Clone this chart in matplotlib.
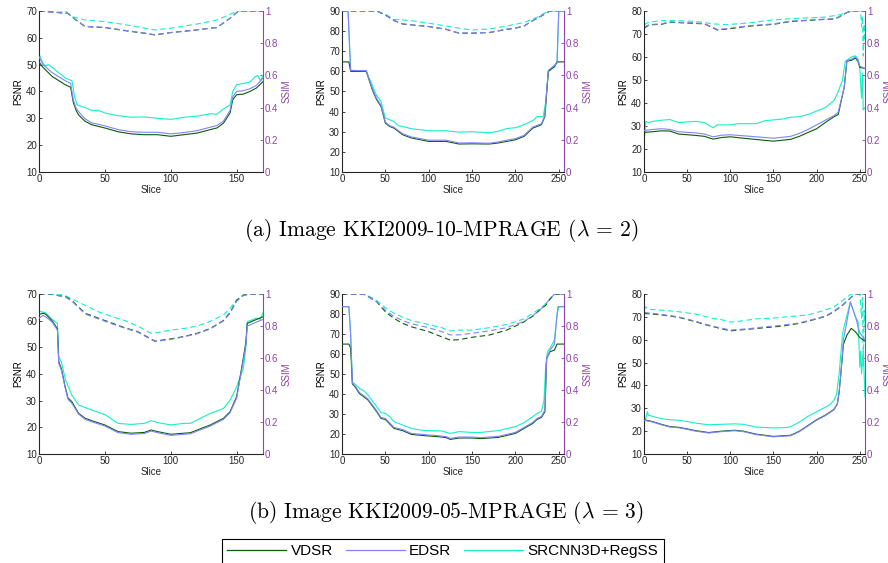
import matplotlib
matplotlib.use("Agg")
import matplotlib.pyplot as plt
from matplotlib.lines import Line2D

plt.rcParams["mathtext.fontset"] = "cm"

METHODS = ["VDSR", "EDSR", "SRCNN3D+RegSS"]
COLORS = {"VDSR": "#0a5c0a", "EDSR": "#8282ff", "SRCNN3D+RegSS": "#12f2c4"}
# SRCNN3D goes underneath so the plateaus of the other two stay visible
ZORDER = {"VDSR": 3, "EDSR": 4, "SRCNN3D+RegSS": 2}
LEFT_COLOR = "#262626"
RIGHT_COLOR = "#8e44a8"

# ---- (a) KKI2009-10-MPRAGE, lambda = 2 -------------------------------------
a1_vdsr_psnr = [(0, 51), (3, 49), (10, 45.6), (20, 42.5), (24, 41.6), (26, 36), (28, 33.2), (30, 31.3),
                (35, 28.9), (40, 27.6), (50, 26.4), (60, 25), (70, 24.2), (80, 23.9), (90, 23.9), (100, 23.3),
                (110, 23.9), (120, 24.5), (130, 25.8), (135, 26.4), (140, 28.2), (145, 32), (147, 36.9),
                (150, 38.8), (155, 39), (160, 40), (165, 41.3), (170, 43.7)]
a1_edsr_psnr = [(0, 53), (3, 50), (10, 47), (20, 44), (24, 43), (26, 37), (28, 34), (30, 32.5), (35, 29.8),
                (40, 28.3), (50, 27.2), (60, 25.8), (70, 25), (80, 24.8), (90, 24.8), (100, 24.2), (110, 24.7),
                (120, 25.4), (130, 26.7), (135, 27.3), (140, 29), (145, 33), (147, 38), (150, 40), (155, 40.3),
                (160, 41), (165, 42.3), (170, 45)]
a1_srcnn_psnr = [(0, 54), (3, 50.5), (5, 49.5), (7, 50), (10, 49), (15, 47), (20, 45), (25, 44), (27, 38),
                 (29, 35), (35, 34), (40, 33), (45, 33), (50, 32), (60, 31), (70, 30.4), (80, 30.5), (90, 30),
                 (100, 29.6), (110, 30.4), (120, 30.8), (130, 31.7), (135, 31.5), (140, 33.5), (145, 35),
                 (147, 40), (150, 42.5), (155, 43), (160, 43.5), (164, 45.5), (166, 46), (168, 44), (170, 46)]
a1_vdsr_ssim = [(0, 1), (22, 0.985), (28, 0.944), (35, 0.903), (50, 0.897), (65, 0.878), (80, 0.862),
                (88, 0.851), (100, 0.866), (115, 0.878), (130, 0.893), (135, 0.897), (145, 0.955), (150, 0.99),
                (152, 1), (170, 1)]
a1_edsr_ssim = [(0, 1), (22, 0.985), (28, 0.946), (35, 0.905), (50, 0.898), (65, 0.88), (80, 0.863),
                (88, 0.852), (100, 0.866), (115, 0.878), (130, 0.893), (135, 0.897), (145, 0.955), (150, 0.99),
                (152, 1), (170, 1)]
a1_srcnn_ssim = [(0, 1), (20, 1), (25, 0.965), (35, 0.944), (50, 0.934), (70, 0.909), (88, 0.882),
                 (100, 0.893), (120, 0.919), (135, 0.944), (148, 0.99), (150, 1), (170, 1)]

a2_vdsr_psnr = [(0, 64.7), (8, 64.7), (10, 60), (28, 60), (30, 57.4), (35, 50.8), (40, 45.9), (45, 42.6),
                (50, 34.3), (55, 32.6), (60, 31.8), (70, 28.5), (80, 26.9), (100, 25.2), (120, 25.2), (135, 23.9),
                (150, 24), (170, 23.9), (180, 24.4), (200, 26), (210, 27.7), (220, 31.8), (230, 33.5),
                (234, 37.6), (236, 49.2), (238, 59.9), (245, 62.4), (248, 64.7), (256, 64.7)]
a2_edsr_psnr = [(0, 90), (7, 90), (10, 60.5), (28, 60.3), (30, 57.8), (35, 51.5), (40, 46.5), (45, 43.2),
                (50, 34.8), (55, 33), (60, 32.2), (70, 29), (80, 27.4), (100, 25.8), (120, 25.8), (135, 24.4),
                (150, 24.5), (170, 24.3), (180, 24.9), (200, 26.6), (210, 28.2), (220, 32.3), (230, 34),
                (234, 38), (236, 50), (238, 60.5), (245, 63), (248, 64), (250, 90), (256, 90)]
a2_srcnn_psnr = [(0, 90), (7, 90), (10, 60.5), (28, 60.3), (30, 58), (35, 53), (40, 48), (45, 45), (50, 36.8),
                 (55, 36), (60, 35), (65, 33), (70, 32.6), (80, 31.5), (100, 30.5), (120, 30.5), (135, 29.8),
                 (150, 30), (170, 29.5), (180, 30.2), (190, 31.6), (200, 32), (210, 33.5), (220, 35.5),
                 (225, 37.5), (232, 37.5), (235, 45), (237, 55), (238, 60.5), (245, 62), (248, 64.7),
                 (250, 90), (256, 90)]
a2_vdsr_ssim = [(0, 1), (40, 1), (50, 0.975), (60, 0.94), (70, 0.919), (100, 0.903), (120, 0.886),
                (135, 0.862), (150, 0.862), (170, 0.866), (190, 0.886), (200, 0.893), (210, 0.907),
                (220, 0.94), (230, 0.969), (240, 1), (256, 1)]
a2_edsr_ssim = [(0, 1), (40, 1), (50, 0.975), (60, 0.942), (70, 0.92), (100, 0.904), (120, 0.887),
                (135, 0.863), (150, 0.863), (170, 0.867), (190, 0.887), (200, 0.894), (210, 0.908),
                (220, 0.94), (230, 0.97), (240, 1), (256, 1)]
a2_srcnn_ssim = [(0, 1), (40, 1), (50, 0.98), (60, 0.948), (80, 0.94), (100, 0.924), (120, 0.907),
                 (135, 0.893), (150, 0.882), (170, 0.888), (190, 0.907), (210, 0.928), (225, 0.961),
                 (238, 1), (256, 1)]

a3_vdsr_psnr = [(0, 27.2), (10, 27.5), (20, 27.9), (30, 27.8), (40, 26.5), (60, 25.9), (70, 25.5), (80, 24.3),
                (90, 25), (100, 25.3), (120, 24.5), (150, 23.4), (170, 24.2), (180, 25.5), (190, 27.2),
                (200, 28.8), (210, 31.5), (220, 34), (225, 35), (232, 47), (235, 58.2), (240, 58.5),
                (245, 59.5), (248, 58), (250, 55.5), (256, 55)]
a3_edsr_psnr = [(0, 28), (10, 28.5), (20, 28.8), (30, 28.5), (40, 27.5), (60, 27), (70, 26.5), (80, 25.3),
                (90, 26), (100, 26.2), (120, 25.6), (150, 24.7), (170, 25.5), (180, 26.8), (190, 28.5),
                (200, 30.5), (210, 32.5), (220, 34.5), (225, 36), (232, 47), (235, 58.5), (240, 59), (245, 60),
                (248, 58.5), (250, 56), (256, 55)]
a3_srcnn_psnr = [(0, 31), (1, 26), (2, 32), (5, 31.5), (10, 32), (20, 32.5), (30, 32.8), (40, 31.5), (60, 32),
                 (70, 31.5), (80, 29.2), (85, 30.5), (100, 30.5), (110, 31), (130, 31), (140, 32.3), (160, 33),
                 (170, 33.8), (180, 34), (190, 35), (200, 36.5), (210, 38), (220, 41), (225, 45), (230, 50),
                 (233, 58), (240, 60), (245, 60.5), (248, 59), (250, 55), (252, 42), (253, 53), (254, 37),
                 (256, 38)]
a3_vdsr_ssim = [(0, 0.893), (5, 0.91), (10, 0.915), (20, 0.917), (30, 0.93), (50, 0.925), (70, 0.92),
                (85, 0.882), (100, 0.89), (120, 0.905), (150, 0.917), (170, 0.935), (200, 0.945), (220, 0.95),
                (225, 0.96), (235, 0.99), (240, 1), (256, 1)]
a3_edsr_ssim = [(0, 0.9), (5, 0.912), (10, 0.917), (20, 0.92), (30, 0.932), (50, 0.928), (70, 0.922),
                (85, 0.885), (100, 0.893), (120, 0.908), (150, 0.92), (170, 0.937), (200, 0.947), (220, 0.952),
                (225, 0.962), (235, 0.99), (240, 1), (256, 1)]
a3_srcnn_ssim = [(0, 0.913), (5, 0.93), (20, 0.94), (40, 0.94), (60, 0.935), (80, 0.92), (95, 0.915),
                 (120, 0.925), (150, 0.945), (180, 0.955), (210, 0.962), (225, 0.975), (235, 0.99), (240, 1),
                 (251, 1), (252, 0.9), (253, 0.97), (254, 0.72), (255, 0.92), (256, 0.8)]

# ---- (b) KKI2009-05-MPRAGE, lambda = 3 -------------------------------------
b1_vdsr_psnr = [(0, 62.4), (3, 62.8), (5, 62.5), (10, 60), (14, 57), (15, 44.6), (17, 42), (20, 35), (22, 31),
                (25, 29.6), (30, 25.3), (35, 23.4), (40, 22.5), (50, 20.9), (60, 18.4), (70, 17.8), (80, 18.1),
                (85, 19), (90, 18.4), (100, 17.4), (110, 17.8), (115, 18), (120, 19), (130, 20.9), (140, 23.4),
                (145, 25.9), (150, 31.5), (155, 45.9), (157, 52), (158, 59), (165, 60.5), (170, 61.5)]
b1_edsr_psnr = [(0, 61), (3, 62), (5, 61.5), (10, 59.5), (14, 56.5), (15, 44), (17, 41.5), (20, 34.5),
                (22, 30.5), (25, 29), (30, 25), (35, 23), (40, 22.1), (50, 20.5), (60, 18), (70, 17.4),
                (80, 17.7), (85, 18.6), (90, 18), (100, 17), (110, 17.4), (115, 17.6), (120, 18.6), (130, 20.5),
                (140, 23), (145, 25.5), (150, 31), (155, 45), (157, 51), (158, 58), (165, 59.5), (170, 60.5)]
b1_srcnn_psnr = [(0, 63.6), (5, 63), (10, 60.5), (14, 59), (15, 46.5), (17, 44.5), (20, 38), (25, 32),
                 (30, 28.4), (40, 26.5), (50, 24.8), (60, 21.5), (70, 21.1), (80, 21.5), (85, 22.5), (90, 21.8),
                 (100, 20.9), (110, 21.5), (115, 21.5), (120, 22.8), (130, 25.2), (140, 27.1), (145, 30.2),
                 (150, 35.2), (155, 42), (157, 50), (158, 59.6), (165, 61), (168, 60.5), (170, 63)]
b1_vdsr_ssim = [(0, 1), (10, 1), (15, 0.99), (20, 0.985), (25, 0.96), (30, 0.92), (35, 0.88), (45, 0.85),
                (55, 0.82), (65, 0.79), (75, 0.765), (88, 0.706), (100, 0.72), (110, 0.735), (120, 0.755),
                (130, 0.785), (140, 0.835), (145, 0.885), (150, 0.96), (155, 0.995), (160, 1), (170, 1)]
b1_edsr_ssim = [(0, 1), (10, 1), (15, 0.99), (20, 0.982), (25, 0.955), (30, 0.915), (35, 0.875), (45, 0.845),
                (55, 0.815), (65, 0.787), (75, 0.762), (88, 0.703), (100, 0.717), (110, 0.733), (120, 0.752),
                (130, 0.782), (140, 0.832), (145, 0.88), (150, 0.955), (155, 0.993), (160, 1), (170, 1)]
b1_srcnn_ssim = [(0, 1), (15, 1), (20, 0.99), (25, 0.97), (35, 0.93), (45, 0.89), (55, 0.86), (65, 0.835),
                 (75, 0.8), (85, 0.755), (90, 0.76), (100, 0.775), (110, 0.785), (120, 0.8), (130, 0.83),
                 (140, 0.87), (145, 0.91), (150, 0.965), (155, 0.99), (160, 1), (170, 1)]

b2_vdsr_psnr = [(0, 65), (8, 65), (10, 63), (12, 45), (15, 43.7), (20, 40.3), (25, 38.7), (30, 37), (40, 31.2),
                (45, 27.8), (50, 27.3), (60, 22.8), (70, 21.7), (80, 19.8), (100, 19), (110, 18.7), (120, 18.2),
                (125, 17.3), (135, 18), (150, 18), (160, 17.7), (180, 18.3), (200, 20.3), (210, 22.8),
                (220, 25.3), (225, 27.3), (230, 28.3), (234, 31.2), (236, 57.8), (240, 61.2), (245, 62),
                (248, 65), (256, 65)]
b2_edsr_psnr = [(0, 83.7), (8, 83.7), (10, 69.5), (12, 45.5), (15, 44.2), (20, 40.8), (25, 39.2), (30, 37.5),
                (40, 31.7), (45, 28.3), (50, 27.8), (60, 23.3), (70, 22.2), (80, 20.3), (100, 19.5), (110, 19.2),
                (120, 18.7), (125, 17.8), (135, 18.5), (150, 18.5), (160, 18.2), (180, 18.8), (200, 20.8),
                (210, 23.3), (220, 25.8), (225, 27.8), (230, 28.8), (234, 32), (236, 57.8), (240, 62),
                (245, 65), (247, 75), (249, 83.7), (256, 83.7)]
b2_srcnn_psnr = [(0, 83.7), (8, 83.7), (10, 70), (12, 46), (15, 45), (20, 42.8), (25, 41.7), (30, 39.5),
                 (40, 33.7), (45, 30.7), (50, 30.3), (55, 28.7), (60, 26.2), (70, 24.5), (80, 22.8), (90, 22),
                 (100, 21.7), (115, 21.5), (125, 20.3), (135, 21.2), (150, 20.8), (160, 20.8), (180, 21.7),
                 (200, 23.7), (210, 25.7), (220, 28.7), (225, 30.3), (230, 31.2), (233, 37), (235, 54.5),
                 (237, 61.2), (240, 63), (245, 67), (248, 80), (250, 83.7), (256, 83.7)]
b2_vdsr_ssim = [(0, 1), (25, 1), (30, 0.985), (40, 0.952), (50, 0.89), (60, 0.848), (70, 0.817), (80, 0.796),
                (100, 0.765), (115, 0.733), (125, 0.712), (135, 0.715), (150, 0.73), (170, 0.744), (190, 0.775),
                (200, 0.8), (210, 0.827), (220, 0.862), (230, 0.91), (235, 0.93), (240, 0.97), (245, 1),
                (256, 1)]
b2_edsr_ssim = [(0, 1), (25, 1), (30, 0.985), (40, 0.953), (50, 0.9), (60, 0.86), (70, 0.835), (80, 0.815),
                (100, 0.79), (115, 0.765), (125, 0.745), (135, 0.745), (150, 0.755), (170, 0.77), (190, 0.79),
                (210, 0.83), (220, 0.865), (230, 0.91), (240, 0.97), (245, 1), (256, 1)]
b2_srcnn_ssim = [(0, 1), (25, 1), (30, 0.99), (40, 0.96), (50, 0.915), (60, 0.88), (70, 0.855), (80, 0.835),
                 (100, 0.81), (115, 0.79), (125, 0.77), (135, 0.775), (150, 0.775), (170, 0.79), (190, 0.81),
                 (210, 0.845), (220, 0.88), (230, 0.915), (240, 0.97), (245, 1), (256, 1)]

b3_vdsr_psnr = [(0, 25), (10, 24.2), (20, 23), (30, 22), (40, 21.7), (50, 21), (60, 20.2), (75, 19.4),
                (90, 20), (105, 20.4), (115, 20), (130, 18.7), (150, 17.7), (170, 18.2), (180, 20), (190, 22.5),
                (200, 25), (210, 27), (220, 29.5), (224, 32), (226, 37), (228, 45), (231, 58), (235, 62),
                (240, 65), (245, 63.5), (250, 61), (256, 59.4)]
b3_edsr_psnr = [(0, 24.8), (10, 24), (20, 22.8), (30, 21.8), (40, 21.5), (50, 20.8), (60, 20), (75, 19.2),
                (90, 19.8), (105, 20.2), (115, 19.8), (130, 18.5), (150, 17.5), (170, 18), (180, 19.8),
                (190, 22.3), (200, 24.8), (210, 26.8), (220, 29.3), (224, 31.8), (226, 37), (228, 45),
                (231, 60), (235, 68), (239, 76.6), (245, 70), (250, 63), (256, 60)]
b3_srcnn_psnr = [(0, 29.5), (1, 25), (2, 25.5), (4, 28.5), (5, 27), (10, 26.5), (20, 25.5), (30, 25),
                 (40, 24.8), (50, 24.2), (60, 23.5), (75, 22.8), (90, 23), (105, 23.2), (115, 23), (130, 21.8),
                 (150, 21.4), (165, 21.6), (170, 22), (180, 24), (190, 26.5), (200, 28.5), (210, 30.5),
                 (215, 31.5), (220, 33.5), (223, 36), (226, 45), (230, 62.8), (232, 66), (239, 76.6), (245, 70),
                 (248, 68), (250, 48), (251, 55), (252, 45), (254, 55), (256, 35)]
b3_vdsr_ssim = [(0, 0.879), (10, 0.875), (20, 0.87), (40, 0.855), (60, 0.827), (70, 0.81), (85, 0.79),
                (100, 0.77), (120, 0.78), (140, 0.79), (160, 0.8), (180, 0.817), (200, 0.845), (210, 0.86),
                (220, 0.89), (230, 0.93), (240, 0.98), (245, 1), (256, 1)]
b3_edsr_ssim = [(0, 0.885), (10, 0.88), (20, 0.873), (40, 0.858), (60, 0.83), (70, 0.813), (85, 0.793),
                (100, 0.775), (120, 0.783), (140, 0.795), (160, 0.805), (180, 0.82), (200, 0.848), (210, 0.863),
                (220, 0.893), (230, 0.933), (240, 0.98), (245, 1), (256, 1)]
b3_srcnn_ssim = [(0, 0.9), (2, 0.92), (5, 0.905), (20, 0.9), (40, 0.89), (60, 0.875), (80, 0.848), (90, 0.84),
                 (100, 0.825), (110, 0.83), (130, 0.845), (150, 0.85), (170, 0.86), (190, 0.87), (210, 0.9),
                 (220, 0.92), (230, 0.96), (240, 1), (250, 1), (252, 0.85), (253, 0.98), (254, 0.55),
                 (255, 0.9), (256, 0.8)]

# panel -> (x max, psnr max, x ticks, psnr curves, ssim curves)
PANELS = [
    (170, 70, [0, 50, 100, 150], [a1_vdsr_psnr, a1_edsr_psnr, a1_srcnn_psnr], [a1_vdsr_ssim, a1_edsr_ssim, a1_srcnn_ssim]),
    (256, 90, [0, 50, 100, 150, 200, 250], [a2_vdsr_psnr, a2_edsr_psnr, a2_srcnn_psnr], [a2_vdsr_ssim, a2_edsr_ssim, a2_srcnn_ssim]),
    (256, 80, [0, 50, 100, 150, 200, 250], [a3_vdsr_psnr, a3_edsr_psnr, a3_srcnn_psnr], [a3_vdsr_ssim, a3_edsr_ssim, a3_srcnn_ssim]),
    (170, 70, [0, 50, 100, 150], [b1_vdsr_psnr, b1_edsr_psnr, b1_srcnn_psnr], [b1_vdsr_ssim, b1_edsr_ssim, b1_srcnn_ssim]),
    (256, 90, [0, 50, 100, 150, 200, 250], [b2_vdsr_psnr, b2_edsr_psnr, b2_srcnn_psnr], [b2_vdsr_ssim, b2_edsr_ssim, b2_srcnn_ssim]),
    (256, 80, [0, 50, 100, 150, 200, 250], [b3_vdsr_psnr, b3_edsr_psnr, b3_srcnn_psnr], [b3_vdsr_ssim, b3_edsr_ssim, b3_srcnn_ssim]),
]
CAPTIONS = [r"(a) Image KKI2009-10-MPRAGE ($\lambda$ = 2)",
            r"(b) Image KKI2009-05-MPRAGE ($\lambda$ = 3)"]

COL_LEFT = [0.0439, 0.3851, 0.7252]
COL_WIDTH = [0.2523, 0.250, 0.2489]
ROW_BOTTOM = [0.6945, 0.1936]
ROW_HEIGHT = [0.286, 0.284]

SANS = "Liberation Sans"
TICK_FS = 7
LABEL_FS = 7


def unzip(points):
    xs = [p[0] for p in points]
    ys = [p[1] for p in points]
    return xs, ys


def draw_panel(fig, rect, panel):
    xmax, ymax, xticks, psnr_curves, ssim_curves = panel
    ax = fig.add_axes(rect)
    ax2 = ax.twinx()
    ax.set_zorder(ax2.get_zorder() + 1)
    ax.patch.set_visible(False)

    for name, pts in zip(METHODS, psnr_curves):
        xs, ys = unzip(pts)
        ax.plot(xs, ys, color=COLORS[name], lw=0.8, zorder=ZORDER[name])
    for name, pts in zip(METHODS, ssim_curves):
        xs, ys = unzip(pts)
        ax2.plot(xs, ys, color=COLORS[name], lw=0.8, ls=(0, (5, 3)), zorder=ZORDER[name])

    ax.set_xlim(0, xmax)
    ax.set_ylim(10, ymax)
    ax.set_xticks(xticks)
    ax.set_yticks(range(10, ymax + 1, 10))
    ax2.set_ylim(0, 1)
    ax2.set_yticks([0, 0.2, 0.4, 0.6, 0.8, 1])
    ax2.set_yticklabels(["0", "0.2", "0.4", "0.6", "0.8", "1"])

    for a in (ax, ax2):
        a.spines["top"].set_visible(False)
        for s in a.spines.values():
            s.set_linewidth(0.8)
    ax.spines["right"].set_visible(False)
    ax2.spines["left"].set_visible(False)
    ax2.spines["bottom"].set_visible(False)
    ax.spines["left"].set_color(LEFT_COLOR)
    ax.spines["bottom"].set_color(LEFT_COLOR)
    ax2.spines["right"].set_color(RIGHT_COLOR)

    ax.tick_params(direction="in", length=2.5, width=0.6, colors=LEFT_COLOR, labelsize=TICK_FS, pad=1.5)
    ax2.tick_params(direction="in", length=2.5, width=0.6, colors=RIGHT_COLOR, labelsize=TICK_FS, pad=1.5)
    for lbl in ax.get_xticklabels() + ax.get_yticklabels() + ax2.get_yticklabels():
        lbl.set_fontfamily(SANS)

    ax.set_xlabel("Slice", fontsize=TICK_FS, family=SANS, color=LEFT_COLOR, labelpad=1)
    ax.set_ylabel("PSNR", fontsize=LABEL_FS, family=SANS, color="black", labelpad=2)
    ax2.set_ylabel("SSIM", fontsize=LABEL_FS, family=SANS, color=RIGHT_COLOR, labelpad=2)


fig = plt.figure(figsize=(8.88, 5.63), dpi=100)
for i, panel in enumerate(PANELS):
    row, col = divmod(i, 3)
    draw_panel(fig, [COL_LEFT[col], ROW_BOTTOM[row], COL_WIDTH[col], ROW_HEIGHT[row]], panel)

fig.text(0.497, 0.590, CAPTIONS[0], ha="center", va="center", fontsize=15.5, family="cmr10")
fig.text(0.502, 0.089, CAPTIONS[1], ha="center", va="center", fontsize=15.5, family="cmr10")

handles = [Line2D([], [], color=COLORS[m], lw=0.9) for m in METHODS]
leg = fig.legend(handles, METHODS, ncol=3, loc="upper left", bbox_to_anchor=(0.2497, 0.0426),
                 frameon=True, fancybox=False, framealpha=1, borderaxespad=0, borderpad=0.35,
                 handlelength=3.85, handletextpad=0.3, columnspacing=0.85,
                 prop={"family": SANS, "size": 11})
leg.get_frame().set_edgecolor("black")
leg.get_frame().set_linewidth(0.8)

fig.savefig("out.png", dpi=100)
